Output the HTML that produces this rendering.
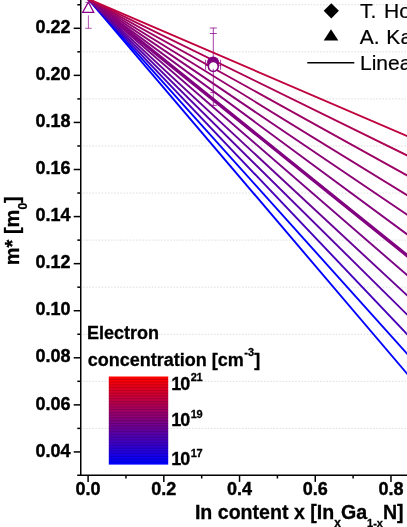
<!DOCTYPE html><html><head><meta charset="utf-8"><style>html,body{margin:0;padding:0;background:#fff}svg{display:block;will-change:transform;transform:translateZ(0)}text{font-family:"Liberation Sans",sans-serif}</style></head><body>
<svg width="407" height="527" viewBox="0 0 407 527">
<rect width="407" height="527" fill="#fff"/>
<line x1="82.95" y1="4.76" x2="407" y2="4.76" stroke="#dedede" stroke-width="1" stroke-dasharray="1.6 1.52"/>
<line x1="82.95" y1="51.83" x2="407" y2="51.83" stroke="#dedede" stroke-width="1" stroke-dasharray="1.6 1.52"/>
<line x1="82.95" y1="98.91" x2="407" y2="98.91" stroke="#dedede" stroke-width="1" stroke-dasharray="1.6 1.52"/>
<line x1="82.95" y1="145.97" x2="407" y2="145.97" stroke="#dedede" stroke-width="1" stroke-dasharray="1.6 1.52"/>
<line x1="82.95" y1="193.04" x2="407" y2="193.04" stroke="#dedede" stroke-width="1" stroke-dasharray="1.6 1.52"/>
<line x1="82.95" y1="240.12" x2="407" y2="240.12" stroke="#dedede" stroke-width="1" stroke-dasharray="1.6 1.52"/>
<line x1="82.95" y1="287.18" x2="407" y2="287.18" stroke="#dedede" stroke-width="1" stroke-dasharray="1.6 1.52"/>
<line x1="82.95" y1="334.25" x2="407" y2="334.25" stroke="#dedede" stroke-width="1" stroke-dasharray="1.6 1.52"/>
<line x1="82.95" y1="381.32" x2="407" y2="381.32" stroke="#dedede" stroke-width="1" stroke-dasharray="1.6 1.52"/>
<line x1="82.95" y1="428.39" x2="407" y2="428.39" stroke="#dedede" stroke-width="1" stroke-dasharray="1.6 1.52"/>
<line x1="82.95" y1="475.47" x2="407" y2="475.47" stroke="#dedede" stroke-width="1" stroke-dasharray="1.6 1.52"/>
<path d="M88.4 15.3 V28.3 M85.2 28.3 H91.7 M85.4 2.4 H91.4" fill="none" stroke="#8b008b" stroke-width="0.9" opacity="0.75"/>
<path d="M213.3 28 V105.5 M209.8 28 H216.8 M209.8 33.5 H216.8 M210.3 92.6 H216.3 M209.8 105.4 H216.8" fill="none" stroke="#8b008b" stroke-width="0.9" opacity="0.85"/>
<path d="M205.6 65.6 H221 M205.6 59.8 V69.8 M220.6 59.8 V69.8" fill="none" stroke="#8b008b" stroke-width="0.9" opacity="0.85"/>
<line x1="88.10" y1="-1.10" x2="440.00" y2="412.37" stroke="rgb(0,0,255)" stroke-width="1.9"/>
<line x1="88.10" y1="-1.10" x2="440.00" y2="390.30" stroke="rgb(0,0,255)" stroke-width="1.9"/>
<line x1="88.10" y1="-1.10" x2="440.00" y2="368.68" stroke="rgb(69,0,186)" stroke-width="1.9"/>
<line x1="88.10" y1="-1.10" x2="440.00" y2="347.16" stroke="rgb(87,0,168)" stroke-width="1.9"/>
<line x1="88.10" y1="-1.10" x2="440.00" y2="325.97" stroke="rgb(105,0,150)" stroke-width="1.9"/>
<line x1="88.10" y1="-1.10" x2="440.00" y2="303.57" stroke="rgb(122,0,133)" stroke-width="1.9"/>
<line x1="88.10" y1="-1.10" x2="440.00" y2="282.05" stroke="rgb(128,0,128)" stroke-width="3.4"/>
<line x1="88.10" y1="-1.10" x2="440.00" y2="258.55" stroke="rgb(133,0,122)" stroke-width="1.9"/>
<line x1="88.10" y1="-1.10" x2="440.00" y2="237.03" stroke="rgb(139,0,116)" stroke-width="1.9"/>
<line x1="88.10" y1="-1.10" x2="440.00" y2="215.51" stroke="rgb(147,0,108)" stroke-width="1.9"/>
<line x1="88.10" y1="-1.10" x2="440.00" y2="193.55" stroke="rgb(156,0,99)" stroke-width="1.9"/>
<line x1="88.10" y1="-1.10" x2="440.00" y2="171.59" stroke="rgb(173,0,82)" stroke-width="1.9"/>
<line x1="88.10" y1="-1.10" x2="440.00" y2="150.19" stroke="rgb(193,0,62)" stroke-width="1.9"/>
<line x1="80.75" y1="0" x2="80.75" y2="476.10" stroke="#000" stroke-width="1.5"/>
<line x1="77.2" y1="475.30" x2="407" y2="475.30" stroke="#000" stroke-width="1.5"/>
<line x1="73.7" y1="28.30" x2="80.75" y2="28.30" stroke="#000" stroke-width="1.5"/>
<text x="70.6" y="33.00" font-size="18" font-weight="bold" text-anchor="end" stroke="#000" stroke-width="0.4" transform="translate(0,33.00) scale(1,1.03) translate(0,-33.00)">0.22</text>
<line x1="73.7" y1="75.37" x2="80.75" y2="75.37" stroke="#000" stroke-width="1.5"/>
<text x="70.6" y="80.07" font-size="18" font-weight="bold" text-anchor="end" stroke="#000" stroke-width="0.4" transform="translate(0,80.07) scale(1,1.03) translate(0,-80.07)">0.20</text>
<line x1="73.7" y1="122.44" x2="80.75" y2="122.44" stroke="#000" stroke-width="1.5"/>
<text x="70.6" y="127.14" font-size="18" font-weight="bold" text-anchor="end" stroke="#000" stroke-width="0.4" transform="translate(0,127.14) scale(1,1.03) translate(0,-127.14)">0.18</text>
<line x1="73.7" y1="169.51" x2="80.75" y2="169.51" stroke="#000" stroke-width="1.5"/>
<text x="70.6" y="174.21" font-size="18" font-weight="bold" text-anchor="end" stroke="#000" stroke-width="0.4" transform="translate(0,174.21) scale(1,1.03) translate(0,-174.21)">0.16</text>
<line x1="73.7" y1="216.58" x2="80.75" y2="216.58" stroke="#000" stroke-width="1.5"/>
<text x="70.6" y="221.28" font-size="18" font-weight="bold" text-anchor="end" stroke="#000" stroke-width="0.4" transform="translate(0,221.28) scale(1,1.03) translate(0,-221.28)">0.14</text>
<line x1="73.7" y1="263.65" x2="80.75" y2="263.65" stroke="#000" stroke-width="1.5"/>
<text x="70.6" y="268.35" font-size="18" font-weight="bold" text-anchor="end" stroke="#000" stroke-width="0.4" transform="translate(0,268.35) scale(1,1.03) translate(0,-268.35)">0.12</text>
<line x1="73.7" y1="310.72" x2="80.75" y2="310.72" stroke="#000" stroke-width="1.5"/>
<text x="70.6" y="315.42" font-size="18" font-weight="bold" text-anchor="end" stroke="#000" stroke-width="0.4" transform="translate(0,315.42) scale(1,1.03) translate(0,-315.42)">0.10</text>
<line x1="73.7" y1="357.79" x2="80.75" y2="357.79" stroke="#000" stroke-width="1.5"/>
<text x="70.6" y="362.49" font-size="18" font-weight="bold" text-anchor="end" stroke="#000" stroke-width="0.4" transform="translate(0,362.49) scale(1,1.03) translate(0,-362.49)">0.08</text>
<line x1="73.7" y1="404.86" x2="80.75" y2="404.86" stroke="#000" stroke-width="1.5"/>
<text x="70.6" y="409.56" font-size="18" font-weight="bold" text-anchor="end" stroke="#000" stroke-width="0.4" transform="translate(0,409.56) scale(1,1.03) translate(0,-409.56)">0.06</text>
<line x1="73.7" y1="451.93" x2="80.75" y2="451.93" stroke="#000" stroke-width="1.5"/>
<text x="70.6" y="456.63" font-size="18" font-weight="bold" text-anchor="end" stroke="#000" stroke-width="0.4" transform="translate(0,456.63) scale(1,1.03) translate(0,-456.63)">0.04</text>
<line x1="77.3" y1="4.76" x2="80.75" y2="4.76" stroke="#000" stroke-width="1.5"/>
<line x1="77.3" y1="51.83" x2="80.75" y2="51.83" stroke="#000" stroke-width="1.5"/>
<line x1="77.3" y1="98.91" x2="80.75" y2="98.91" stroke="#000" stroke-width="1.5"/>
<line x1="77.3" y1="145.97" x2="80.75" y2="145.97" stroke="#000" stroke-width="1.5"/>
<line x1="77.3" y1="193.04" x2="80.75" y2="193.04" stroke="#000" stroke-width="1.5"/>
<line x1="77.3" y1="240.12" x2="80.75" y2="240.12" stroke="#000" stroke-width="1.5"/>
<line x1="77.3" y1="287.18" x2="80.75" y2="287.18" stroke="#000" stroke-width="1.5"/>
<line x1="77.3" y1="334.25" x2="80.75" y2="334.25" stroke="#000" stroke-width="1.5"/>
<line x1="77.3" y1="381.32" x2="80.75" y2="381.32" stroke="#000" stroke-width="1.5"/>
<line x1="77.3" y1="428.39" x2="80.75" y2="428.39" stroke="#000" stroke-width="1.5"/>
<line x1="88.10" y1="475.30" x2="88.10" y2="481.9" stroke="#000" stroke-width="1.5"/>
<text x="88.10" y="495.2" font-size="18" font-weight="bold" text-anchor="middle" stroke="#000" stroke-width="0.4">0.0</text>
<line x1="125.96" y1="475.30" x2="125.96" y2="478.5" stroke="#000" stroke-width="1.5"/>
<line x1="163.82" y1="475.30" x2="163.82" y2="481.9" stroke="#000" stroke-width="1.5"/>
<text x="163.82" y="495.2" font-size="18" font-weight="bold" text-anchor="middle" stroke="#000" stroke-width="0.4">0.2</text>
<line x1="201.68" y1="475.30" x2="201.68" y2="478.5" stroke="#000" stroke-width="1.5"/>
<line x1="239.54" y1="475.30" x2="239.54" y2="481.9" stroke="#000" stroke-width="1.5"/>
<text x="239.54" y="495.2" font-size="18" font-weight="bold" text-anchor="middle" stroke="#000" stroke-width="0.4">0.4</text>
<line x1="277.40" y1="475.30" x2="277.40" y2="478.5" stroke="#000" stroke-width="1.5"/>
<line x1="315.26" y1="475.30" x2="315.26" y2="481.9" stroke="#000" stroke-width="1.5"/>
<text x="315.26" y="495.2" font-size="18" font-weight="bold" text-anchor="middle" stroke="#000" stroke-width="0.4">0.6</text>
<line x1="353.12" y1="475.30" x2="353.12" y2="478.5" stroke="#000" stroke-width="1.5"/>
<line x1="390.98" y1="475.30" x2="390.98" y2="481.9" stroke="#000" stroke-width="1.5"/>
<text x="390.98" y="495.2" font-size="18" font-weight="bold" text-anchor="middle" stroke="#000" stroke-width="0.4">0.8</text>
<line x1="428.84" y1="475.30" x2="428.84" y2="478.5" stroke="#000" stroke-width="1.5"/>
<text x="194.9" y="519.1" font-size="19.6" font-weight="bold" stroke="#000" stroke-width="0.3">In content x [In<tspan font-size="12" dy="7.9">x</tspan><tspan font-size="19.6" dy="-7.9">Ga</tspan><tspan font-size="11" dy="7.9">1-x</tspan><tspan font-size="19.6" dy="-7.9">N]</tspan></text>
<text transform="translate(19.1,265.2) rotate(-90)" font-size="20" font-weight="bold" stroke="#000" stroke-width="0.3">m* [m<tspan font-size="12" dy="7.8">0</tspan><tspan font-size="20" dy="-7.8">]</tspan></text>
<path d="M331.3 3.2 L338.9 10.8 L331.3 18.4 L323.7 10.8 Z" fill="#000"/>
<path d="M331 29.2 L338.3 40.6 L323.7 40.6 Z" fill="#000"/>
<line x1="307.3" y1="62.7" x2="354.3" y2="62.7" stroke="#000" stroke-width="1.5"/>
<text x="359.9" y="17.5" font-size="21" word-spacing="1.9" stroke="#000" stroke-width="0.2">T. Hofmann</text>
<text x="359.8" y="43.7" font-size="21" word-spacing="0.9" stroke="#000" stroke-width="0.2">A. Kasic</text>
<text x="360" y="69.6" font-size="21" stroke="#000" stroke-width="0.2">Linear</text>
<path d="M88.4 2.2 L93.7 12.3 L82.7 12.3 Z" fill="#fff" stroke="#8b008b" stroke-width="1.3"/>
<circle cx="213.1" cy="62.5" r="6.1" fill="#800080"/>
<circle cx="213.3" cy="66.5" r="4.95" fill="#fff" stroke="#800080" stroke-width="1.5"/>
<path d="M213.3 68.8 V72" fill="none" stroke="#8b008b" stroke-width="0.9" opacity="0.85"/>
<text x="87.0" y="338.5" font-size="18" font-weight="bold" stroke="#000" stroke-width="0.3">Electron</text>
<text x="87.7" y="365.5" font-size="18" font-weight="bold" stroke="#000" stroke-width="0.3">concentration [cm<tspan font-size="11" dy="-10" dx="0.5">-3</tspan><tspan font-size="18" dy="10" dx="0.3">]</tspan></text>
<defs><linearGradient id="cb" x1="0" y1="0" x2="0" y2="1"><stop offset="0.00000" stop-color="rgb(255,0,0)"/><stop offset="0.03125" stop-color="rgb(255,0,0)"/><stop offset="0.03125" stop-color="rgb(247,0,8)"/><stop offset="0.06250" stop-color="rgb(247,0,8)"/><stop offset="0.06250" stop-color="rgb(239,0,16)"/><stop offset="0.09375" stop-color="rgb(239,0,16)"/><stop offset="0.09375" stop-color="rgb(230,0,25)"/><stop offset="0.12500" stop-color="rgb(230,0,25)"/><stop offset="0.12500" stop-color="rgb(222,0,33)"/><stop offset="0.15625" stop-color="rgb(222,0,33)"/><stop offset="0.15625" stop-color="rgb(214,0,41)"/><stop offset="0.18750" stop-color="rgb(214,0,41)"/><stop offset="0.18750" stop-color="rgb(206,0,49)"/><stop offset="0.21875" stop-color="rgb(206,0,49)"/><stop offset="0.21875" stop-color="rgb(197,0,58)"/><stop offset="0.25000" stop-color="rgb(197,0,58)"/><stop offset="0.25000" stop-color="rgb(189,0,66)"/><stop offset="0.28125" stop-color="rgb(189,0,66)"/><stop offset="0.28125" stop-color="rgb(181,0,74)"/><stop offset="0.31250" stop-color="rgb(181,0,74)"/><stop offset="0.31250" stop-color="rgb(173,0,82)"/><stop offset="0.34375" stop-color="rgb(173,0,82)"/><stop offset="0.34375" stop-color="rgb(165,0,90)"/><stop offset="0.37500" stop-color="rgb(165,0,90)"/><stop offset="0.37500" stop-color="rgb(156,0,99)"/><stop offset="0.40625" stop-color="rgb(156,0,99)"/><stop offset="0.40625" stop-color="rgb(148,0,107)"/><stop offset="0.43750" stop-color="rgb(148,0,107)"/><stop offset="0.43750" stop-color="rgb(140,0,115)"/><stop offset="0.46875" stop-color="rgb(140,0,115)"/><stop offset="0.46875" stop-color="rgb(132,0,123)"/><stop offset="0.50000" stop-color="rgb(132,0,123)"/><stop offset="0.50000" stop-color="rgb(123,0,132)"/><stop offset="0.53125" stop-color="rgb(123,0,132)"/><stop offset="0.53125" stop-color="rgb(115,0,140)"/><stop offset="0.56250" stop-color="rgb(115,0,140)"/><stop offset="0.56250" stop-color="rgb(107,0,148)"/><stop offset="0.59375" stop-color="rgb(107,0,148)"/><stop offset="0.59375" stop-color="rgb(99,0,156)"/><stop offset="0.62500" stop-color="rgb(99,0,156)"/><stop offset="0.62500" stop-color="rgb(90,0,165)"/><stop offset="0.65625" stop-color="rgb(90,0,165)"/><stop offset="0.65625" stop-color="rgb(82,0,173)"/><stop offset="0.68750" stop-color="rgb(82,0,173)"/><stop offset="0.68750" stop-color="rgb(74,0,181)"/><stop offset="0.71875" stop-color="rgb(74,0,181)"/><stop offset="0.71875" stop-color="rgb(66,0,189)"/><stop offset="0.75000" stop-color="rgb(66,0,189)"/><stop offset="0.75000" stop-color="rgb(58,0,197)"/><stop offset="0.78125" stop-color="rgb(58,0,197)"/><stop offset="0.78125" stop-color="rgb(49,0,206)"/><stop offset="0.81250" stop-color="rgb(49,0,206)"/><stop offset="0.81250" stop-color="rgb(41,0,214)"/><stop offset="0.84375" stop-color="rgb(41,0,214)"/><stop offset="0.84375" stop-color="rgb(33,0,222)"/><stop offset="0.87500" stop-color="rgb(33,0,222)"/><stop offset="0.87500" stop-color="rgb(25,0,230)"/><stop offset="0.90625" stop-color="rgb(25,0,230)"/><stop offset="0.90625" stop-color="rgb(16,0,239)"/><stop offset="0.93750" stop-color="rgb(16,0,239)"/><stop offset="0.93750" stop-color="rgb(8,0,247)"/><stop offset="0.96875" stop-color="rgb(8,0,247)"/><stop offset="0.96875" stop-color="rgb(0,0,255)"/><stop offset="1.00000" stop-color="rgb(0,0,255)"/></linearGradient></defs>
<rect x="108.8" y="376.50" width="59.4" height="88.10" fill="url(#cb)"/>
<rect x="108.8" y="378.85" width="59.4" height="0.9" fill="#000" opacity="0.18"/>
<rect x="108.8" y="381.61" width="59.4" height="0.9" fill="#000" opacity="0.18"/>
<rect x="108.8" y="384.36" width="59.4" height="0.9" fill="#000" opacity="0.18"/>
<rect x="108.8" y="387.11" width="59.4" height="0.9" fill="#000" opacity="0.18"/>
<rect x="108.8" y="389.87" width="59.4" height="0.9" fill="#000" opacity="0.18"/>
<rect x="108.8" y="392.62" width="59.4" height="0.9" fill="#000" opacity="0.18"/>
<rect x="108.8" y="395.37" width="59.4" height="0.9" fill="#000" opacity="0.18"/>
<rect x="108.8" y="398.12" width="59.4" height="0.9" fill="#000" opacity="0.18"/>
<rect x="108.8" y="400.88" width="59.4" height="0.9" fill="#000" opacity="0.18"/>
<rect x="108.8" y="403.63" width="59.4" height="0.9" fill="#000" opacity="0.18"/>
<rect x="108.8" y="406.38" width="59.4" height="0.9" fill="#000" opacity="0.18"/>
<rect x="108.8" y="409.14" width="59.4" height="0.9" fill="#000" opacity="0.18"/>
<rect x="108.8" y="411.89" width="59.4" height="0.9" fill="#000" opacity="0.18"/>
<rect x="108.8" y="414.64" width="59.4" height="0.9" fill="#000" opacity="0.18"/>
<rect x="108.8" y="417.40" width="59.4" height="0.9" fill="#000" opacity="0.18"/>
<rect x="108.8" y="420.15" width="59.4" height="0.9" fill="#000" opacity="0.18"/>
<rect x="108.8" y="422.90" width="59.4" height="0.9" fill="#000" opacity="0.18"/>
<rect x="108.8" y="425.66" width="59.4" height="0.9" fill="#000" opacity="0.18"/>
<rect x="108.8" y="428.41" width="59.4" height="0.9" fill="#000" opacity="0.18"/>
<rect x="108.8" y="431.16" width="59.4" height="0.9" fill="#000" opacity="0.18"/>
<rect x="108.8" y="433.92" width="59.4" height="0.9" fill="#000" opacity="0.18"/>
<rect x="108.8" y="436.67" width="59.4" height="0.9" fill="#000" opacity="0.18"/>
<rect x="108.8" y="439.42" width="59.4" height="0.9" fill="#000" opacity="0.18"/>
<rect x="108.8" y="442.18" width="59.4" height="0.9" fill="#000" opacity="0.18"/>
<rect x="108.8" y="444.93" width="59.4" height="0.9" fill="#000" opacity="0.18"/>
<rect x="108.8" y="447.68" width="59.4" height="0.9" fill="#000" opacity="0.18"/>
<rect x="108.8" y="450.43" width="59.4" height="0.9" fill="#000" opacity="0.18"/>
<rect x="108.8" y="453.19" width="59.4" height="0.9" fill="#000" opacity="0.18"/>
<rect x="108.8" y="455.94" width="59.4" height="0.9" fill="#000" opacity="0.18"/>
<rect x="108.8" y="458.69" width="59.4" height="0.9" fill="#000" opacity="0.18"/>
<rect x="108.8" y="461.45" width="59.4" height="0.9" fill="#000" opacity="0.18"/>
<text x="171.2" y="389.5" font-size="18" font-weight="bold" stroke="#000" stroke-width="0.3" letter-spacing="-0.9">10<tspan font-size="11" dy="-8.2" dx="1.2" letter-spacing="-0.2">21</tspan></text>
<text x="171.2" y="426.0" font-size="18" font-weight="bold" stroke="#000" stroke-width="0.3" letter-spacing="-0.9">10<tspan font-size="11" dy="-8.2" dx="1.2" letter-spacing="-0.2">19</tspan></text>
<text x="171.2" y="465.0" font-size="18" font-weight="bold" stroke="#000" stroke-width="0.3" letter-spacing="-0.9">10<tspan font-size="11" dy="-8.2" dx="1.2" letter-spacing="-0.2">17</tspan></text>
</svg></body></html>
